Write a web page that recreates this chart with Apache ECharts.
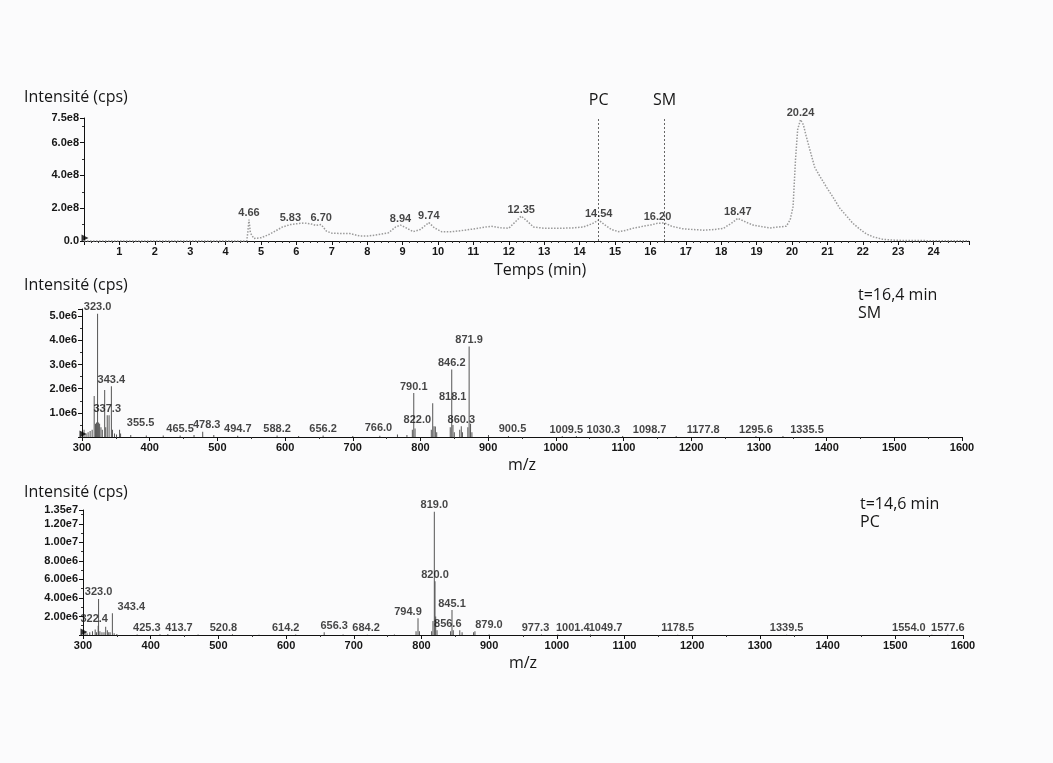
<!DOCTYPE html>
<html><head><meta charset="utf-8">
<script src="https://cdn.jsdelivr.net/npm/echarts@6/dist/echarts.min.js"></script>
<style>html,body{margin:0;padding:0;background:#fbfbfc}#c{width:1053px;height:763px}</style>
</head><body><div id="c"></div>
<script>
// ---------- DATA ----------
// Chromatogram (TIC): time in min, intensity in units of 1e8 cps
const TIC_UNIT = 1e8;
const ticTime = [0,4.5,4.6,4.63,4.66,4.7,4.8,5.0,5.2,5.4,5.6,5.83,6.0,6.2,6.4,6.55,6.7,6.85,7.0,7.3,7.52,7.8,8.0,8.3,8.6,8.8,8.94,9.1,9.3,9.5,9.74,9.9,10.1,10.4,10.8,11.2,11.5,11.8,12.0,12.2,12.35,12.5,12.7,13.0,13.4,13.8,14.1,14.35,14.54,14.7,14.9,15.1,15.3,15.5,15.8,16.0,16.2,16.4,16.6,16.9,17.2,17.5,17.8,18.06,18.3,18.47,18.7,18.9,19.2,19.4,19.6,19.84,19.95,20.03,20.1,20.16,20.24,20.32,20.4,20.5,20.64,20.8,20.97,21.15,21.35,21.55,21.72,21.9,22.1,22.3,22.57,22.9,23.2,24.0,25];
const ticIntensity = [0,0,0.02,0.6,1.3,0.5,0.15,0.2,0.37,0.6,0.85,1.0,1.05,1.1,1.05,0.95,1.0,0.6,0.48,0.45,0.45,0.3,0.3,0.38,0.5,0.85,0.97,0.8,0.57,0.7,1.12,0.8,0.57,0.57,0.67,0.8,0.9,0.8,0.78,1.2,1.52,1.25,0.85,0.78,0.77,0.8,0.85,1.05,1.28,1.0,0.7,0.57,0.65,0.77,0.9,0.97,1.08,1.1,0.9,0.75,0.7,0.66,0.7,0.77,1.1,1.38,1.15,0.97,0.85,0.8,0.85,0.9,1.3,2.1,5.0,6.8,7.4,7.1,6.4,5.6,4.5,3.9,3.3,2.7,2.0,1.5,1.08,0.75,0.43,0.25,0.1,0.05,0.03,0.02,0.02];
const ticPeakTime = [4.66,5.83,6.70,8.94,9.74,12.35,14.54,16.20,18.47,20.24];
const ticPeakIntensity = [1.3,1.0,1.0,0.97,1.12,1.52,1.28,1.08,1.38,7.4];
const markerNames = ['PC','SM'];
const markerTimes = [14.54,16.4];

// Mass spectra: m/z and intensity in units of 1e6 cps
const MS_UNIT = 1e6;
// SM spectrum, t=16,4 min
const smMz  = [303,306,309,312,315,318,320,321.5,323,324.5,326,328,330,333.5,335,337.3,340,343.4,345,348,351,355.5,357,372,395,420,445,465.5,478.3,494.7,530,588.2,620,656.2,700,740,766,780,788,790.1,792,816,818.1,820,822,824,844,846.2,848,850,858,860.3,862,870,871.9,874,876,900.5,930,1009.5,1030.3,1098.7,1177.8,1295.6,1335.5];
const smInt = [0.3,0.15,0.2,0.25,0.3,1.7,0.55,0.6,5.1,0.6,0.55,0.4,0.3,1.95,0.4,0.9,0.9,2.1,0.3,0.15,0.1,0.3,0.15,0.08,0.06,0.06,0.06,0.08,0.22,0.08,0.05,0.06,0.04,0.06,0.04,0.05,0.1,0.08,0.3,1.82,0.35,0.3,1.4,0.45,0.43,0.2,0.4,2.8,0.5,0.2,0.3,0.45,0.2,0.4,3.75,0.55,0.2,0.08,0.04,0.04,0.04,0.04,0.04,0.04,0.04];
const smLabelMz  = [323.0,343.4,337.3,355.5,465.5,478.3,494.7,588.2,656.2,766.0,790.1,818.1,822.0,846.2,860.3,871.9,900.5,1009.5,1030.3,1098.7,1177.8,1295.6,1335.5];
const smLabelInt = [5.1,2.1,0.9,0.3,0.08,0.22,0.08,0.06,0.06,0.1,1.82,1.4,0.43,2.8,0.45,3.75,0.08,0.04,0.04,0.04,0.04,0.04,0.04];
// PC spectrum, t=14,6 min
const pcMz  = [303,306,310,314,318,320,322.4,323,325,328,331,333.5,336,338,340,343.4,346,350,380,413.7,425.3,470,520.8,560,614.2,656.3,684.2,720,760,792,794.9,797,815,817,819,820,821,823,843,845.1,847,856.6,860,877,879,900,977.3,1001.4,1049.7,1178.5,1339.5,1554,1577.6];
const pcInt = [0.3,0.2,0.3,0.4,0.6,0.3,1.0,3.9,0.4,0.3,0.3,0.9,0.5,0.3,0.3,2.35,0.2,0.1,0.05,0.08,0.1,0.05,0.08,0.04,0.06,0.3,0.06,0.04,0.05,0.4,1.8,0.4,0.4,1.5,13.3,5.8,2.0,0.5,0.4,2.7,0.5,0.5,0.3,0.3,0.4,0.05,0.05,0.05,0.05,0.04,0.04,0.04,0.04];
const pcLabelMz  = [323.0,322.4,343.4,425.3,413.7,520.8,614.2,656.3,684.2,794.9,819.0,820.0,845.1,856.6,879.0,977.3,1001.4,1049.7,1178.5,1339.5,1554.0,1577.6];
const pcLabelInt = [3.9,1.0,2.35,0.1,0.08,0.08,0.06,0.3,0.06,1.8,13.3,5.8,2.7,0.5,0.4,0.05,0.05,0.05,0.04,0.04,0.04,0.04];

// ---------- STYLE (label horizontal shifts, px) ----------
const smShift = {'355.5':21,'465.5':-14,'478.3':4,'494.7':24,'766.0':-19,'818.1':20,'822.0':-18,'900.5':24,'1009.5':4,'1030.3':27,'1098.7':27,'1177.8':27,'1335.5':24};
const pcShift = {'322.4':-4,'343.4':19,'425.3':-21,'413.7':19,'520.8':-9,'614.2':-10,'656.3':10,'684.2':23,'794.9':-10,'856.6':-12,'879.0':14,'977.3':-6,'1001.4':15,'1049.7':15,'1554.0':-23};

const TXT = '#161616';
const NUMF = 'Liberation Sans';
const SANS = 'Open Sans';

function zip(a, b, unit){ return a.map((v,i)=>[v, b[i]*unit]); }

function labelSeries(xi, mz, ints, unit, digits, shifts){
  return {
    type:'scatter', xAxisIndex:xi, yAxisIndex:xi, symbolSize:0, silent:true, z:5,
    data: mz.map((m,i)=>{
      const s = m.toFixed(digits);
      return {value:[m, ints[i]*unit], label:{offset:[(shifts && shifts[s])||0, 0]}};
    }),
    label:{show:true, position:'top', distance:1, fontFamily:NUMF, fontSize:11, fontWeight:'bold', color:TXT,
      formatter:p=>p.value[0].toFixed(digits)}
  };
}
function originMark(xi, x0){
  return {type:'scatter', xAxisIndex:xi, yAxisIndex:xi, silent:true, z:6,
    symbol:'triangle', symbolRotate:-90, symbolSize:7, symbolOffset:[1,-3],
    itemStyle:{color:'#000'}, data:[[x0,0]]};
}
function xAx(gi, min, max, interval, minorSplit, hideEnds, name){
  return {
    type:'value', gridIndex:gi, min:min, max:max, interval:interval,
    axisLine:{show:true, onZero:false, lineStyle:{color:'#111', width:1}},
    axisTick:{show:true, length:4, lineStyle:{color:'#111'}},
    minorTick:{show:true, splitNumber:minorSplit, length:2, lineStyle:{color:'#333'}},
    splitLine:{show:false},
    axisLabel:{fontFamily:NUMF, fontSize:11, fontWeight:'bold', color:TXT, margin:5,
      formatter:v=> hideEnds && (v===min || v===max) ? '' : String(v)},
    name:name||'', nameLocation:'middle', nameGap:20,
    nameTextStyle:{fontFamily:SANS, fontSize:16, color:TXT}
  };
}
function yAx(gi, max, interval, fmt){
  return {
    type:'value', gridIndex:gi, min:0, max:max, interval:interval,
    axisLine:{show:true, lineStyle:{color:'#111', width:1}},
    axisTick:{show:true, length:4, lineStyle:{color:'#111'}},
    minorTick:{show:true, splitNumber:2, length:2, lineStyle:{color:'#333'}},
    splitLine:{show:false},
    axisLabel:{fontFamily:NUMF, fontSize:11, fontWeight:'bold', color:TXT, margin:5, formatter:fmt}
  };
}

const chart = echarts.init(document.getElementById('c'), null, {renderer:'canvas'});
const titleStyle = {fontFamily:SANS, fontSize:16, fontWeight:'normal', color:TXT, lineHeight:18};
chart.setOption({
  backgroundColor:'#fbfbfc',
  animation:false,
  title:[
    {text:'Intensité (cps)', left:24, top:88, padding:0, textStyle:titleStyle},
    {text:'Temps (min)', left:494, top:261, padding:0, textStyle:titleStyle},
    {text:'Intensité (cps)', left:24, top:276, padding:0, textStyle:titleStyle},
    {text:'t=16,4 min\nSM', left:858, top:286, padding:0, textStyle:titleStyle},
    {text:'Intensité (cps)', left:24, top:483, padding:0, textStyle:titleStyle},
    {text:'t=14,6 min\nPC', left:860, top:495, padding:0, textStyle:titleStyle}
  ],
  grid:[
    {left:84, right:84, top:118, height:123},
    {left:82, right:91, top:309, height:128},
    {left:83, right:90, top:510, height:125}
  ],
  xAxis:[
    xAx(0, 0, 25, 1, 5, true),
    xAx(1, 300, 1600, 100, 2, false, 'm/z'),
    xAx(2, 300, 1600, 100, 2, false, 'm/z')
  ],
  yAxis:[
    yAx(0, 7.5e8, 2e8, v=> v===0 ? '0.0' : (v/1e8).toFixed(1)+'e8'),
    yAx(1, 5.3e6, 1e6, v=> (v===0 || v%1e6!==0) ? '' : (v/1e6).toFixed(1)+'e6'),
    yAx(2, 1.35e7, 2e6, v=> v===0 ? '' : (v<1e7 ? (v/1e6).toFixed(2)+'e6' : (v/1e7).toFixed(2)+'e7'))
  ],
  series:[
    {
      type:'line', xAxisIndex:0, yAxisIndex:0, showSymbol:false, silent:true,
      data: zip(ticTime, ticIntensity, TIC_UNIT),
      lineStyle:{color:'#9a9a9a', width:1.5, type:[1.5,1.5]},
      markLine:{
        silent:true, symbol:'none',
        lineStyle:{color:'#666', type:[2,2], width:1},
        label:{show:true, position:'end', formatter:'{b}', distance:10,
          fontFamily:SANS, fontSize:16, color:TXT},
        data: markerNames.map((n,i)=>({name:n, xAxis:markerTimes[i]}))
      }
    },
    labelSeries(0, ticPeakTime, ticPeakIntensity, TIC_UNIT, 2, null),
    {type:'bar', xAxisIndex:1, yAxisIndex:1, barWidth:1, silent:true,
      itemStyle:{color:'#555'}, data: zip(smMz, smInt, MS_UNIT)},
    labelSeries(1, smLabelMz, smLabelInt, MS_UNIT, 1, smShift),
    {type:'bar', xAxisIndex:2, yAxisIndex:2, barWidth:1, silent:true,
      itemStyle:{color:'#555'}, data: zip(pcMz, pcInt, MS_UNIT)},
    labelSeries(2, pcLabelMz, pcLabelInt, MS_UNIT, 1, pcShift),
    originMark(0, 0), originMark(1, 300), originMark(2, 300)
  ]
});
</script></body></html>
